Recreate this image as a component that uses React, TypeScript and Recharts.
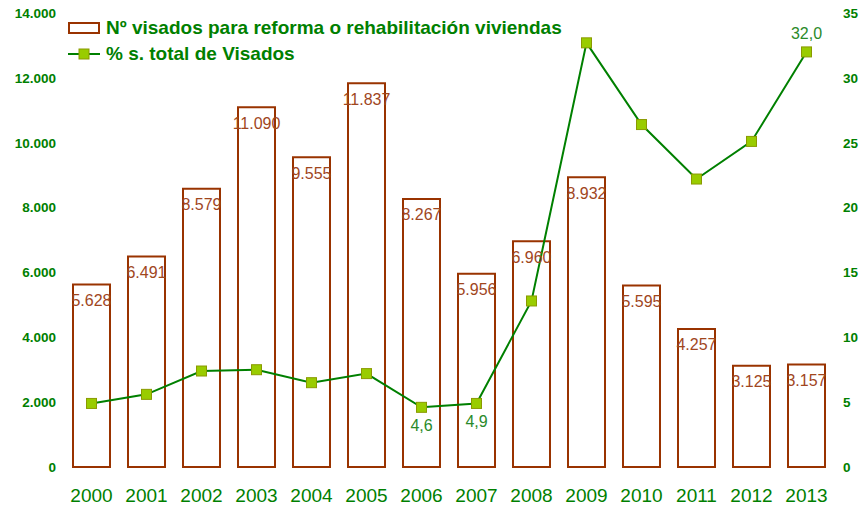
import { ComposedChart, Bar, Line, XAxis, YAxis, LabelList } from 'recharts';

const years = ['2000', '2001', '2002', '2003', '2004', '2005', '2006', '2007', '2008', '2009', '2010', '2011', '2012', '2013'];
const visados = [5628, 6491, 8579, 11090, 9555, 11837, 8267, 5956, 6960, 8932, 5595, 4257, 3125, 3157];
const pctTotal = [4.9, 5.6, 7.4, 7.5, 6.5, 7.2, 4.6, 4.9, 12.8, 32.7, 26.4, 22.2, 25.1, 32.0];
const leftTicks = [0, 2000, 4000, 6000, 8000, 10000, 12000, 14000];
const rightTicks = [0, 5, 10, 15, 20, 25, 30, 35];
// only these points carry a value label in the original
const labelledYears = ['2006', '2007', '2013'];

const data = years.map((year, i) => ({ year, visados: visados[i], pct: pctTotal[i] }));

const FONT = '"Liberation Sans", Arial, sans-serif';
const GREEN = '#008000';
const BROWN = '#993300';

const fmtThousands = (v: number) => String(v).replace(/\B(?=(\d{3})+(?!\d))/g, '.');

const SquareDot = (props: any) => {
  const { cx, cy } = props;
  if (cx == null || cy == null) return null;
  return <rect x={cx - 5} y={cy - 5} width={10} height={10} fill="#99cc00" stroke="#8a9a00" strokeWidth={1} />;
};

const PctLabel = (props: any) => {
  const { x, y, index } = props;
  const d = data[index];
  if (!d || !labelledYears.includes(d.year)) return null;
  const above = d.year === '2013';
  return (
    <text x={x} y={above ? y - 13 : y + 24} textAnchor="middle" fontSize={16} fill="#2a8a2a" fontFamily={FONT}>
      {d.pct.toFixed(1).replace('.', ',')}
    </text>
  );
};

export default function App() {
  return (
    <div style={{ position: 'absolute', left: 0, top: 0, width: 862, height: 509, background: '#fff', fontFamily: FONT }}>
      <ComposedChart width={862} height={509} data={data} margin={{ top: 13, right: 0, left: 0, bottom: 0 }}>
        <XAxis
          dataKey="year"
          axisLine={false}
          tickLine={false}
          tickSize={0}
          tickMargin={22}
          height={42}
          tick={{ fill: GREEN, fontSize: 19, fontFamily: FONT }}
        />
        <YAxis
          yAxisId="left"
          domain={[0, 14000]}
          ticks={leftTicks}
          axisLine={false}
          tickLine={false}
          tickSize={0}
          tickMargin={8}
          width={64}
          tickFormatter={fmtThousands}
          tick={{ fill: GREEN, fontSize: 13.5, fontWeight: 'bold', fontFamily: FONT }}
        />
        <YAxis
          yAxisId="right"
          orientation="right"
          domain={[0, 35]}
          ticks={rightTicks}
          axisLine={false}
          tickLine={false}
          tickSize={0}
          tickMargin={9}
          width={28}
          tick={{ fill: GREEN, fontSize: 13.5, fontWeight: 'bold', fontFamily: FONT, textAnchor: 'start' }}
        />
        <Bar yAxisId="left" dataKey="visados" fill="#ffffff" stroke={BROWN} strokeWidth={2} barSize={37} isAnimationActive={false}>
          <LabelList
            dataKey="visados"
            position="insideTop"
            offset={10}
            formatter={(v: any) => fmtThousands(Number(v))}
            style={{ fill: '#a0461e', fontSize: 16, fontFamily: FONT }}
          />
        </Bar>
        <Line
          yAxisId="right"
          type="linear"
          dataKey="pct"
          stroke={GREEN}
          strokeWidth={2}
          dot={<SquareDot />}
          activeDot={false}
          isAnimationActive={false}
        >
          <LabelList dataKey="pct" content={<PctLabel />} />
        </Line>
      </ComposedChart>
      <div style={{ position: 'absolute', left: 68, top: 15, color: GREEN, fontWeight: 'bold', fontSize: 19, lineHeight: '26px' }}>
        <div style={{ display: 'flex', alignItems: 'center' }}>
          <svg width={32} height={12} style={{ marginRight: 6 }}>
            <rect x={1} y={1} width={30} height={10} fill="#fff" stroke={BROWN} strokeWidth={2} />
          </svg>
          <span>Nº visados para reforma o rehabilitación viviendas</span>
        </div>
        <div style={{ display: 'flex', alignItems: 'center' }}>
          <svg width={32} height={12} style={{ marginRight: 6 }}>
            <line x1={0} y1={6} x2={32} y2={6} stroke={GREEN} strokeWidth={2} />
            <rect x={11} y={1} width={10} height={10} fill="#99cc00" stroke="#8a9a00" strokeWidth={1} />
          </svg>
          <span>% s. total de Visados</span>
        </div>
      </div>
    </div>
  );
}
